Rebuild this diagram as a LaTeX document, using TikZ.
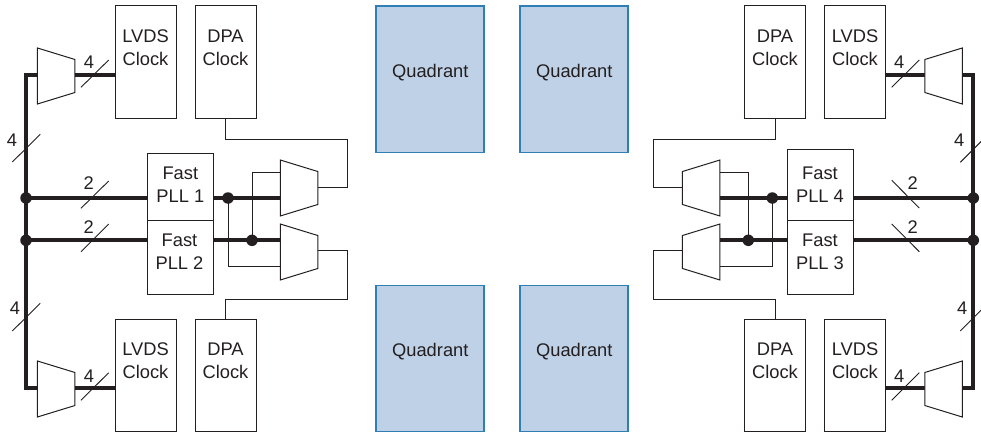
\documentclass[tikz,border=0pt]{standalone}
\usepackage{fontspec}
\setmainfont{Liberation Sans}
\definecolor{ink}{HTML}{231F20}
\definecolor{qfill}{HTML}{BFD1E6}
\definecolor{qline}{HTML}{2F7FB5}
\tikzset{
  every node/.style={inner sep=0pt,outer sep=0pt,text=ink},
  thinw/.style={draw=ink,line width=1pt},
  thickw/.style={draw=ink,line width=4pt},
  slashw/.style={draw=ink,line width=0.9pt},
  clockbox/.style={draw=ink,line width=1pt,fill=white,minimum width=61pt,minimum height=112.5pt},
  pllbox/.style={draw=ink,line width=1pt,fill=white,minimum width=66pt},
  quadbox/.style={draw=qline,line width=1.2pt,fill=qfill,minimum width=108pt,minimum height=146.5pt},
  txt/.style={align=center,font=\fontsize{18.3pt}{23pt}\selectfont},
  numlab/.style={font=\fontsize{18.3pt}{23pt}\selectfont},
  dotn/.style={circle,fill=ink,minimum size=11.5pt},
  muxhold/.style={minimum width=37.5pt,minimum height=56pt}
}
% mux whose wide side is on the left / right; #1 name, #2 x, #3 y of centre
\newcommand{\muxWideLeft}[3]{%
  \node[muxhold] (#1) at (#2,#3) {};
  \draw[thinw,fill=white,line join=miter] (#1.north west) -- ([yshift=-11.5pt]#1.north east) -- ([yshift=11.5pt]#1.south east) -- (#1.south west) -- cycle;}
\newcommand{\muxWideRight}[3]{%
  \node[muxhold] (#1) at (#2,#3) {};
  \draw[thinw,fill=white,line join=miter] (#1.north east) -- ([yshift=-11.5pt]#1.north west) -- ([yshift=11.5pt]#1.south west) -- (#1.south east) -- cycle;}
\begin{document}
\begin{tikzpicture}[x=1pt,y=-1pt]
\useasboundingbox (0,0) rectangle (981,433);
\begin{scope}
\clip (0,0) rectangle (981,433);
% quadrants
\node[quadbox] (q1) at (430,79.3) {};
\node[quadbox] (q2) at (574,79.3) {};
\node[quadbox] (q3) at (430,358.5) {};
\node[quadbox] (q4) at (574,358.5) {};
\node[txt] (q1t) at (430.3,73) {Quadrant};
\node[txt] (q2t) at (574.3,73) {Quadrant};
\node[txt] (q3t) at (430.3,352) {Quadrant};
\node[txt] (q4t) at (574.3,352) {Quadrant};
% clock boxes
\node[clockbox] (ll1) at (145.5,62) {};
\node[clockbox] (dl1) at (225.5,62) {};
\node[clockbox] (ll2) at (145.5,375.5) {};
\node[clockbox] (dl2) at (225.5,375.5) {};
\node[clockbox] (dr1) at (775,62) {};
\node[clockbox] (lr1) at (855,62) {};
\node[clockbox] (dr2) at (775,375.5) {};
\node[clockbox] (lr2) at (855,375.5) {};
\node[txt] at (145.5,48) {LVDS\\Clock};
\node[txt] at (225.5,48) {DPA\\Clock};
\node[txt] at (145.5,361) {LVDS\\Clock};
\node[txt] at (225.5,361) {DPA\\Clock};
\node[txt] at (775,48) {DPA\\Clock};
\node[txt] at (855,48) {LVDS\\Clock};
\node[txt] at (775,361) {DPA\\Clock};
\node[txt] at (855,361) {LVDS\\Clock};
% PLLs
\node[pllbox,minimum height=67pt] (p1) at (180,186.7) {};
\node[pllbox,minimum height=74pt] (p2) at (180,257) {};
\node[pllbox,minimum height=70.5pt] (p4) at (820,185) {};
\node[pllbox,minimum height=74pt] (p3) at (820,257) {};
\node[txt] at (180.3,185) {Fast\\PLL 1};
\node[txt] at (179.5,251.5) {Fast\\PLL 2};
\node[txt] at (820,185) {Fast\\PLL 4};
\node[txt] at (820,251.5) {Fast\\PLL 3};
% junction coordinates
\coordinate (bl1) at (26,75);
\coordinate (bl2) at (26,198);
\coordinate (bl3) at (26,240.3);
\coordinate (bl4) at (26,388);
\coordinate (br1) at (973.3,75);
\coordinate (br2) at (973.3,198);
\coordinate (br3) at (973.3,240.3);
\coordinate (br4) at (973.3,388);
\coordinate (jl1) at (228,198);
\coordinate (jl2) at (252,240.3);
\coordinate (jr1) at (772.3,198);
\coordinate (jr2) at (748.3,240.3);
% thin wires, left
\draw[thinw] (jl2) -- (252,172) -- (299,172);
\draw[thinw] (jl1) -- (228,266.7) -- (299,266.7);
\draw[thinw] (dl1.south) -- (225.5,139) -- (347,139) -- (347,187) -- (299,187);
\draw[thinw] (dl2.north) -- (225.5,299) -- (347,299) -- (347,250.7) -- (299,250.7);
% thin wires, right
\draw[thinw] (jr2) -- (748.3,172) -- (701,172);
\draw[thinw] (jr1) -- (772.3,266.7) -- (701,266.7);
\draw[thinw] (dr1.south) -- (775,139) -- (653,139) -- (653,187) -- (701,187);
\draw[thinw] (dr2.north) -- (775,299) -- (653,299) -- (653,250.7) -- (701,250.7);
% thick wires
\draw[thickw,line join=miter] (56,75) -- (bl1) -- (bl4) -- (56,388);
\draw[thickw,line join=miter] (944,75) -- (br1) -- (br4) -- (944,388);
\draw[thickw] (bl2) -- (p1.west |- bl2);
\draw[thickw] (bl3) -- (p2.west |- bl3);
\draw[thickw] (br2) -- (p4.east |- br2);
\draw[thickw] (br3) -- (p3.east |- br3);
\draw[thickw] (p1.east |- jl1) -- (299,198);
\draw[thickw] (p2.east |- jl2) -- (299,240.3);
\draw[thickw] (p4.west |- jr1) -- (701,198);
\draw[thickw] (p3.west |- jr2) -- (701,240.3);
\draw[thickw] (56,75) -- (ll1.west |- bl1);
\draw[thickw] (56,388) -- (ll2.west |- bl4);
\draw[thickw] (944,75) -- (lr1.east |- br1);
\draw[thickw] (944,388) -- (lr2.east |- br4);
% muxes
\muxWideLeft{ma}{56.2}{76}
\muxWideLeft{mb}{56.2}{389}
\muxWideLeft{mc}{299}{188}
\muxWideLeft{md}{299}{252}
\muxWideRight{me}{943.5}{76}
\muxWideRight{mf}{943.5}{389}
\muxWideRight{mg}{701.2}{188}
\muxWideRight{mh}{701.2}{252}
% dots
\foreach \n in {bl2,bl3,br2,br3,jl1,jl2,jr1,jr2} \node[dotn] at (\n) {};
% slashes
\draw[slashw] (81,87.3) -- (108.7,60);
\draw[slashw] (81,400.3) -- (108.7,372.7);
\draw[slashw] (12.3,162) -- (40.3,134.3);
\draw[slashw] (12.3,331) -- (40.3,303.3);
\draw[slashw] (81,208.3) -- (108.7,181);
\draw[slashw] (81,251.7) -- (108.7,224);
\draw[slashw] (891.7,87.3) -- (919.3,60);
\draw[slashw] (891.7,400.3) -- (919.3,372.7);
\draw[slashw] (960.3,162.3) -- (988,134.6);
\draw[slashw] (960.3,331) -- (988,303.3);
\draw[slashw] (891.7,180.3) -- (919.3,208);
\draw[slashw] (891.7,224) -- (919.3,251.7);
\end{scope}
% labels
\node[numlab] at (89,62) {4};
\node[numlab] at (89,375.7) {4};
\node[numlab] at (12,140) {4};
\node[numlab] at (15,308) {4};
\node[numlab] at (88.7,183) {2};
\node[numlab] at (88.7,227) {2};
\node[numlab] at (899.3,62) {4};
\node[numlab] at (899.3,375.7) {4};
\node[numlab] at (959.3,140) {4};
\node[numlab] at (962.3,308) {4};
\node[numlab] at (912.7,183) {2};
\node[numlab] at (912.7,227) {2};
\end{tikzpicture}
\end{document}
